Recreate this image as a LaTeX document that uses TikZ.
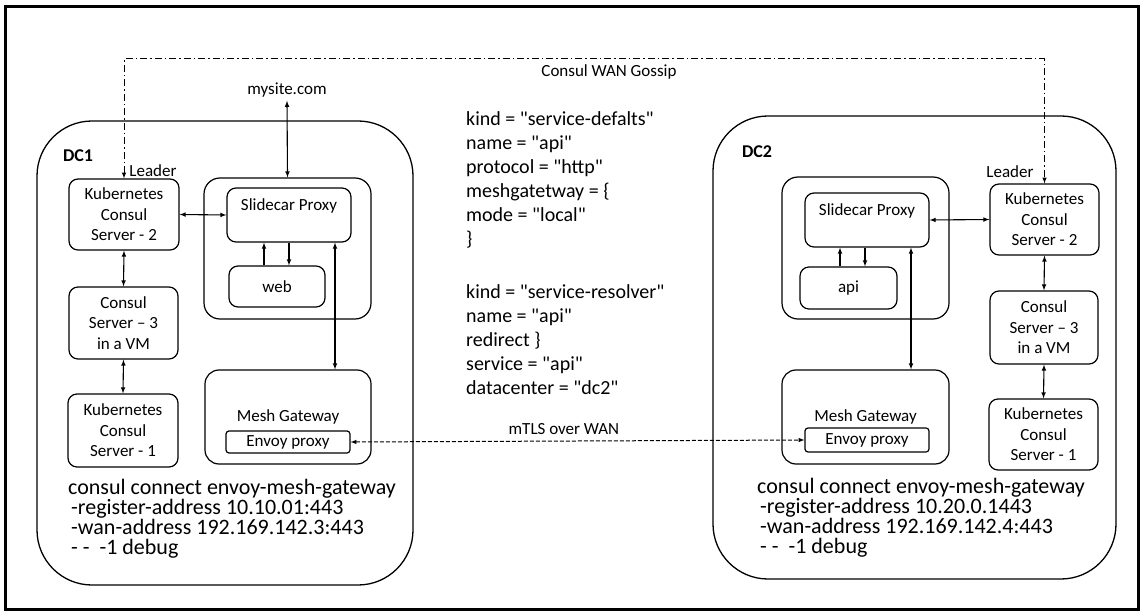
\documentclass[tikz,border=0pt]{standalone}
\usepackage{fontspec}
\setmainfont{Carlito}
\newfontfamily\codefont{Carlito}
\usetikzlibrary{arrows}

\tikzset{
  box/.style={draw, rounded corners=9pt, line width=1.2pt, align=center, inner sep=0pt},
  pod/.style={draw, rounded corners=16pt, line width=1.2pt, inner sep=0pt},
  dc/.style={draw, rounded corners=55pt, line width=1.3pt, inner sep=0pt},
  link/.style={<->, >=latex, line width=1.1pt},
  oneway/.style={->, >=latex, line width=1.1pt},
}

\begin{document}
\begin{tikzpicture}[x=1pt,y=-1pt,font=\fontsize{17}{20.5}\selectfont]
\useasboundingbox (0,0) rectangle (1143,612);
\draw[line width=3pt] (5,7) rectangle (1138,609);

% data centres
\node[dc, minimum width=376pt, minimum height=464pt] (DC1) at (225,353) {};
\node[dc, minimum width=403pt, minimum height=463pt] (DC2) at (914.5,347.5) {};
\node[font=\bfseries\fontsize{18}{20}\selectfont] (dc1name) at (78,156) {DC1};
\node[font=\bfseries\fontsize{18}{20}\selectfont] (dc2name) at (757,152) {DC2};

% DC1
\node[box, minimum width=110pt, minimum height=71pt] (LK2) at (124,214.5) {Kubernetes\\Consul\\Server - 2};
\node[box, minimum width=109pt, minimum height=72pt] (LS3) at (123.5,323) {Consul\\Server -- 3\\in a VM};
\node[box, minimum width=110pt, minimum height=73pt] (LK1) at (123,430.5) {Kubernetes\\Consul\\Server - 1};
\node[pod, minimum width=167pt, minimum height=141pt] (LPod) at (287.5,248.5) {};
\node[box, minimum width=124pt, minimum height=54pt, label={[anchor=north, inner sep=0pt, yshift=-11pt]north:Slidecar Proxy}] (LProxy) at (289,215) {};
\node[box, minimum width=96pt, minimum height=41pt] (LWeb) at (277,286.5) {web};
\node[box, rounded corners=14pt, minimum width=166pt, minimum height=94pt] (LGw) at (288,417) {Mesh Gateway};
\node[box, rounded corners=3pt, minimum width=124pt, minimum height=22pt] (LEnvoy) at (288,442) {Envoy proxy};

% DC2
\node[box, minimum width=109pt, minimum height=71pt] (RK2) at (1044.5,219.5) {Kubernetes\\Consul\\Server - 2};
\node[box, minimum width=108pt, minimum height=73pt] (RS3) at (1044,327.5) {Consul\\Server -- 3\\in a VM};
\node[box, minimum width=109pt, minimum height=71pt] (RK1) at (1043.5,434.5) {Kubernetes\\Consul\\Server - 1};
\node[pod, minimum width=167pt, minimum height=142pt] (RPod) at (865.5,248) {};
\node[box, minimum width=124pt, minimum height=54pt, label={[anchor=north, inner sep=0pt, yshift=-11pt]north:Slidecar Proxy}] (RProxy) at (867,220) {};
\node[box, minimum width=97pt, minimum height=42pt] (RApi) at (848.5,288) {api};
\node[box, rounded corners=14pt, minimum width=167pt, minimum height=94pt] (RGw) at (865.5,417) {Mesh Gateway};
\node[box, rounded corners=3pt, minimum width=124pt, minimum height=24pt] (REnvoy) at (867,440) {Envoy proxy};

% labels
\node (site) at (287,90) {mysite.com};
\node (gossip) at (609,72) {Consul WAN Gossip};
\node (lead1) at (153,171) {Leader};
\node (lead2) at (1010,172) {Leader};

\node[anchor=north west, align=left, inner sep=0pt, font=\codefont\fontsize{20}{24}\selectfont] (cfg) at (466,111) {kind = "service-defalts"\\name = "api"\\protocol = "http"\\meshgatetway = \{\\mode = "local"\\\}\\[29pt]kind = "service-resolver"\\name = "api"\\redirect \}\\service = "api"\\datacenter = "dc2"};

\node[anchor=north west, align=left, inner sep=0pt, font=\codefont\fontsize{22}{20}\selectfont] (cmd1) at (68,479) {consul connect envoy-mesh-gateway\\\hspace*{3pt}-register-address 10.10.01:443\\\hspace*{3pt}-wan-address 192.169.142.3:443\\\hspace*{3pt}- -\ \ -1 debug};
\node[anchor=north west, align=left, inner sep=0pt, font=\codefont\fontsize{22}{20}\selectfont] (cmd2) at (757,478) {consul connect envoy-mesh-gateway\\\hspace*{3pt}-register-address 10.20.0.1443\\\hspace*{3pt}-wan-address 192.169.142.4:443\\\hspace*{3pt}- -\ \ -1 debug};

% connectors DC1
\path[link] (site.south) edge (LPod.north);
\path[link] (LK2.east) edge (LProxy.west);
\path[link] (LK2.south) edge (LS3.north);
\path[link] (LS3.south) edge (LK1.north);
\path[oneway] ([xshift=-13pt]LWeb.north) edge ([xshift=-13pt]LWeb.north |- LProxy.south);
\path[oneway] ([xshift=12pt]LWeb.north |- LProxy.south) edge ([xshift=12pt]LWeb.north);
\path[link] ([xshift=46pt]LProxy.south) edge ([xshift=46pt]LProxy.south |- LGw.north);

% connectors DC2
\path[link] (RProxy.east) edge (RK2.west);
\path[link] (RK2.south) edge (RS3.north);
\path[link] (RS3.south) edge (RK1.north);
\path[oneway] ([xshift=-8.5pt]RApi.north) edge ([xshift=-8.5pt]RApi.north |- RProxy.south);
\path[oneway] ([xshift=16.5pt]RApi.north |- RProxy.south) edge ([xshift=16.5pt]RApi.north);
\path[link] ([xshift=44pt]RProxy.south) edge ([xshift=44pt]RProxy.south |- RGw.north);

% between data centres
\path[<->, >=latex, line width=1pt, dash pattern=on 4pt off 2pt] (LEnvoy.east) edge node[pos=0.47, above=3pt] {mTLS over WAN} (REnvoy.west);
\coordinate (gtop) at (0,59);
\draw[<->, >=latex, line width=1pt, dash pattern=on 7pt off 3pt on 1.5pt off 3pt] (LK2.north) |- (RK2.north |- gtop) -- (RK2.north);

\end{tikzpicture}
\end{document}
